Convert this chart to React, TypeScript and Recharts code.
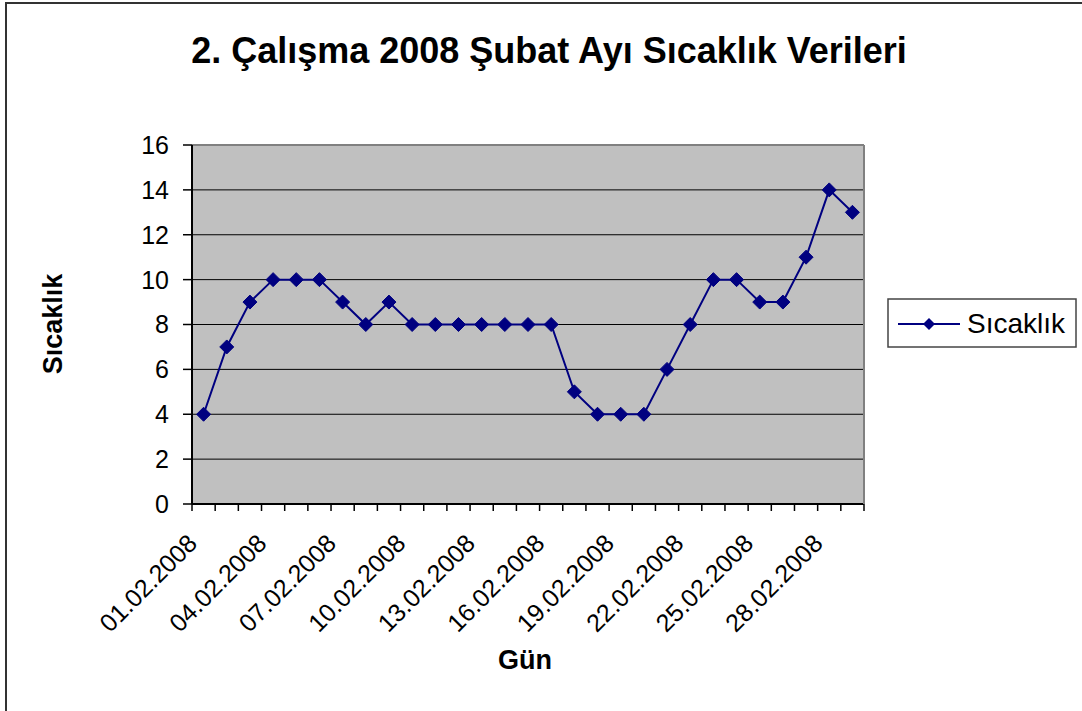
import React from 'react';
import { LineChart, Line, XAxis, YAxis, CartesianGrid } from 'recharts';

const dates = [
  '01.02.2008', '02.02.2008', '03.02.2008', '04.02.2008', '05.02.2008', '06.02.2008',
  '07.02.2008', '08.02.2008', '09.02.2008', '10.02.2008', '11.02.2008', '12.02.2008',
  '13.02.2008', '14.02.2008', '15.02.2008', '16.02.2008', '17.02.2008', '18.02.2008',
  '19.02.2008', '20.02.2008', '21.02.2008', '22.02.2008', '23.02.2008', '24.02.2008',
  '25.02.2008', '26.02.2008', '27.02.2008', '28.02.2008', '29.02.2008',
];
const temps = [4, 7, 9, 10, 10, 10, 9, 8, 9, 8, 8, 8, 8, 8, 8, 8, 5, 4, 4, 4, 6, 8, 10, 10, 9, 9, 11, 14, 13];
const yTicks = [0, 2, 4, 6, 8, 10, 12, 14, 16];
const labelEvery = 3;

const title = '2. Çalışma 2008 Şubat Ayı Sıcaklık Verileri';
const seriesName = 'Sıcaklık';
const yTitle = 'Sıcaklık';
const xTitle = 'Gün';

const data = dates.map((d, i) => ({ date: d, temp: temps[i] }));

const W = 1082;
const H = 711;
const margin = { top: 144, right: 217, bottom: 107, left: 0 };
const yAxisW = 192;
const rightAxisW = 1;
const xAxisH = 100;
const plotW = W - margin.left - margin.right - yAxisW - rightAxisW;
const half = plotW / dates.length / 2;

const FONT = '"Liberation Sans", Arial, Helvetica, sans-serif';
const NAVY = '#000080';

const XTick = (props: any) => {
  const { x, y, payload, index } = props;
  const i = payload && payload.index != null ? payload.index : index;
  return (
    <g>
      <line x1={x - half} x2={x - half} y1={y} y2={y + 7} stroke="#000" strokeWidth={1.5} />
      {i === dates.length - 1 && (
        <line x1={x + half} x2={x + half} y1={y} y2={y + 7} stroke="#000" strokeWidth={1.5} />
      )}
      {i % labelEvery === 0 && (
        <text
          transform={`translate(${x - 5},${y + 41}) rotate(-45)`}
          textAnchor="end"
          fontSize={25}
          fill="#000"
          fontFamily={FONT}
        >
          {payload.value}
        </text>
      )}
    </g>
  );
};

const Diamond = (props: any) => {
  const { cx, cy } = props;
  if (cx == null || cy == null) return null;
  const s = 7;
  return (
    <polygon
      points={`${cx},${cy - s} ${cx + s},${cy} ${cx},${cy + s} ${cx - s},${cy}`}
      fill={NAVY}
      stroke={NAVY}
      strokeWidth={1}
    />
  );
};

export default function App() {
  return (
    <div
      style={{
        position: 'absolute',
        left: 0,
        top: 0,
        width: W,
        height: H,
        overflow: 'hidden',
        background: '#fff',
        fontFamily: FONT,
      }}
    >
      <LineChart width={W} height={H} data={data} margin={margin} style={{ fontFamily: FONT }}>
        <CartesianGrid
          horizontal={true}
          vertical={false}
          fill="#C0C0C0"
          stroke="#000"
          strokeWidth={1}
        />
        <XAxis
          dataKey="date"
          interval={0}
          height={xAxisH}
          padding={{ left: half, right: half }}
          tickSize={0}
          tickMargin={0}
          tickLine={false}
          tick={<XTick />}
          axisLine={{ stroke: '#000', strokeWidth: 2 }}
        />
        <XAxis
          xAxisId="top"
          orientation="top"
          dataKey="date"
          height={1}
          tick={false}
          tickLine={false}
          axisLine={{ stroke: '#808080', strokeWidth: 2 }}
        />
        <YAxis
          width={yAxisW}
          domain={[0, 16]}
          ticks={yTicks}
          interval={0}
          tickSize={9}
          tickMargin={14}
          tick={{ fontSize: 25, fill: '#000', fontFamily: FONT }}
          tickLine={{ stroke: '#000', strokeWidth: 1.5 }}
          axisLine={{ stroke: '#000', strokeWidth: 2 }}
        />
        <YAxis
          yAxisId="right"
          orientation="right"
          width={rightAxisW}
          domain={[0, 16]}
          tick={false}
          tickLine={false}
          axisLine={{ stroke: '#808080', strokeWidth: 2 }}
        />
        <Line
          type="linear"
          dataKey="temp"
          name={seriesName}
          stroke={NAVY}
          strokeWidth={2}
          dot={<Diamond />}
          activeDot={false}
          isAnimationActive={false}
        />
      </LineChart>
      <svg
        width={W}
        height={H}
        style={{ position: 'absolute', left: 0, top: 0, pointerEvents: 'none' }}
        fontFamily={FONT}
      >
        <rect x={6} y={3} width={W + 20} height={H + 20} fill="none" stroke="#333" strokeWidth={2} />
        <text x={549} y={63} textAnchor="middle" fontSize={36} fontWeight="bold" fill="#000">
          {title}
        </text>
        <text
          transform="translate(62,324) rotate(-90)"
          textAnchor="middle"
          fontSize={27}
          fontWeight="bold"
          fill="#000"
        >
          {yTitle}
        </text>
        <text x={525} y={669} textAnchor="middle" fontSize={27} fontWeight="bold" fill="#000">
          {xTitle}
        </text>
        <g>
          <rect x={888} y={299} width={188} height={48} fill="#fff" stroke="#444" strokeWidth={1.5} />
          <line x1={898} x2={960} y1={324} y2={324} stroke={NAVY} strokeWidth={2} />
          <polygon points="929,318 935,324 929,330 923,324" fill={NAVY} />
          <text x={967} y={333} fontSize={28} fill="#000">
            {seriesName}
          </text>
        </g>
      </svg>
    </div>
  );
}
